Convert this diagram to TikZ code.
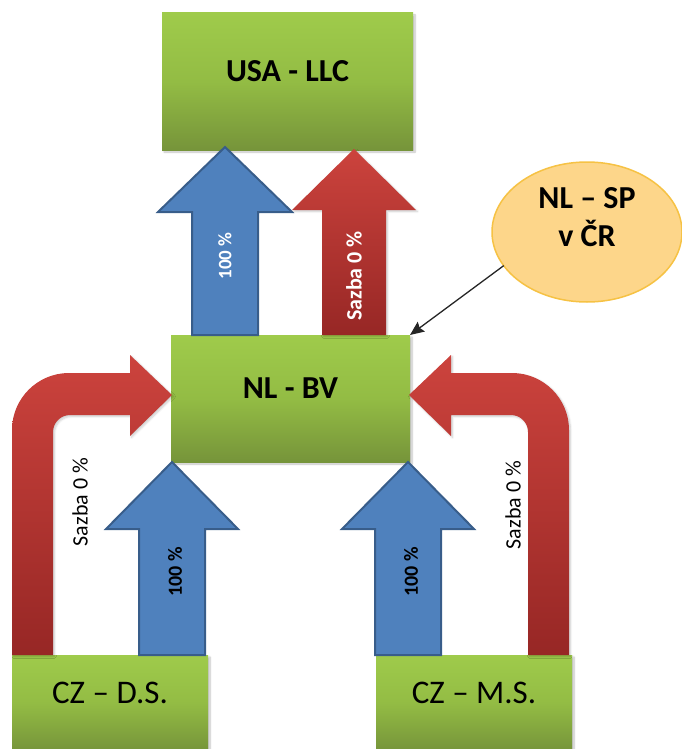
\documentclass[tikz,border=0pt]{standalone}
\usepackage{fontspec}
\setmainfont{Carlito}
\usetikzlibrary{shapes.geometric,arrows.meta,shadows.blur}
\definecolor{gtop}{HTML}{9FCB4B}
\definecolor{gmid}{HTML}{93BC44}
\definecolor{gbot}{HTML}{76943A}
\definecolor{bfill}{HTML}{4F81BD}
\definecolor{bline}{HTML}{385D8A}
\definecolor{rtop}{HTML}{CC433D}
\definecolor{rbot}{HTML}{972725}
\definecolor{efill}{HTML}{FDD68A}
\definecolor{eline}{HTML}{F6C244}
% up block arrow: centre x, tip y, head base y, bottom y, shaft half width, head half width
\newcommand\myUpArrow[6]{({#1-#5},#4) -- ({#1-#5},#3) -- ({#1-#6},#3) -- (#1,#2) -- ({#1+#6},#3) -- ({#1+#5},#3) -- ({#1+#5},#4) -- cycle}
\newcommand\myBentPath{(12,655) -- (12,430) arc[start angle=180,end angle=270,radius=57] -- (130,373) -- (130,355) -- (172,395) -- (130,436) -- (130,415) -- (70,415) arc[start angle=270,end angle=180,radius=17] -- (53,655) -- cycle}
\tikzset{
  box/.style={rectangle, top color=gtop, bottom color=gbot, middle color=gmid, draw=none,
    inner sep=0pt, outer sep=0pt, text height=20pt, text depth=20pt,
    blur shadow={shadow xshift=2pt, shadow yshift=-2pt, shadow blur steps=6, shadow opacity=25}},
  bigbold/.style={font=\bfseries\fontsize{32}{38}\selectfont},
  bigreg/.style={font=\fontsize{33}{38}\selectfont},
  bluearrow/.style={fill=bfill, draw=bline, line width=2pt, line join=miter},
  redarrow/.style={top color=rtop, bottom color=rbot, draw=none,
    blur shadow={shadow xshift=1.5pt, shadow yshift=-1.5pt, shadow blur steps=5, shadow opacity=20}},
  arrlabel/.style={rotate=90, inner sep=0pt},
  pointer/.style={draw=black!85, line width=1.3pt, -{Stealth[length=14pt,width=12pt,inset=2pt]}}
}
\begin{document}
\begin{tikzpicture}[x=1pt,y=-1pt]
\useasboundingbox (0,0) rectangle (682,749);
% boxes
\node[box, bigbold, minimum width=251pt, minimum height=137pt] (usa) at (287.5,81.5) {USA - LLC};
\node[box, bigbold, minimum width=239pt, minimum height=127pt] (nlbv) at (290.5,398.5) {NL - BV};
\node[box, bigreg, minimum width=196pt, minimum height=96pt] (czds) at (110,703) {CZ – D.S.};
\node[box, bigreg, minimum width=196pt, minimum height=96pt] (czms) at (474,703) {CZ – M.S.};
% ellipse
\node[ellipse, fill=efill, draw=eline, line width=1.5pt, minimum width=190pt, minimum height=140pt,
  inner sep=0pt, outer sep=0pt, align=center, bigbold, text height=29pt] (sp) at (587,232) {NL – SP\\v ČR};
% top arrows
\draw[bluearrow] \myUpArrow{225}{147}{212}{335}{33}{67};
\shade[redarrow] \myUpArrow{354}{149}{210}{335}{32}{62};
\node[arrlabel, text=white, font=\bfseries\fontsize{19}{22}\selectfont] (l1) at (225,256) {100 \%};
\node[arrlabel, text=white, font=\bfseries\fontsize{22}{26}\selectfont] (l2) at (354,276) {Sazba 0 \%};
% bottom blue arrows
\draw[bluearrow] \myUpArrow{172}{462}{529}{655}{33}{66};
\draw[bluearrow] \myUpArrow{408}{462}{529}{655}{33}{66};
\node[arrlabel, font=\bfseries\fontsize{20}{24}\selectfont] (l3) at (175,572) {100 \%};
\node[arrlabel, font=\bfseries\fontsize{20}{24}\selectfont] (l4) at (411,572) {100 \%};
% bent red arrows
\shade[redarrow] \myBentPath;
\begin{scope}[xshift=581pt, xscale=-1]
\shade[redarrow] \myBentPath;
\end{scope}
\node[arrlabel, font=\fontsize{22}{26}\selectfont] (l5) at (80,502) {Sazba 0 \%};
\node[arrlabel, font=\fontsize{22}{26}\selectfont] (l6) at (513,505) {Sazba 0 \%};
% pointer
\draw[pointer] (sp.202) -- (nlbv.north east);
\end{tikzpicture}
\end{document}
